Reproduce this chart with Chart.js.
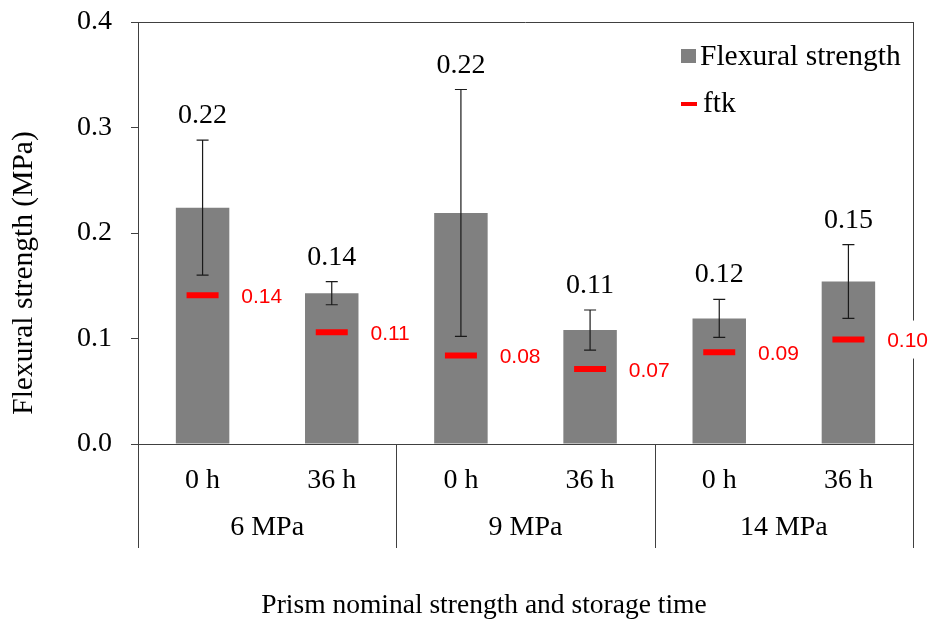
<!DOCTYPE html>
<html lang="en">
<head>
  <meta charset="UTF-8" />
  <title>Flexural strength</title>
  <script src="https://cdn.jsdelivr.net/npm/chart.js"></script>
  <style>
    html, body {
      margin: 0;
      padding: 0;
      background: #fff;
    }
    #wrap {
      width: 940px;
      height: 619px;
    }
  </style>
</head>
<body>
  <div id="wrap"><canvas id="strengthChart"></canvas></div>

  <script>
    const storageTimes = ['0 h', '36 h', '0 h', '36 h', '0 h', '36 h'];
    const prismGroups = ['6 MPa', '9 MPa', '14 MPa'];
    const flexuralMean = [0.224, 0.143, 0.219, 0.108, 0.119, 0.154];
    const flexuralSd = [0.064, 0.011, 0.117, 0.019, 0.018, 0.035];
    const ftkValues = [0.141, 0.106, 0.084, 0.071, 0.087, 0.099];
    const yTicks = [0, 0.1, 0.2, 0.3, 0.4];

    const serif = "'Liberation Serif', 'Times New Roman', serif";
    const sans = "'Liberation Sans', Arial, sans-serif";
    const lineColor = '#404040';
    const barColor = '#808080';
    const ftkColor = '#ff0000';

    // error bars, value labels, frame, group rules, axis titles and legend
    const overlay = {
      id: 'overlay',
      afterDatasetsDraw(chart) {
        const { ctx, scales: { y } } = chart;
        const bars = chart.getDatasetMeta(0).data;
        ctx.save();
        ctx.strokeStyle = '#1a1a1a';
        ctx.lineWidth = 1.2;
        bars.forEach((bar, i) => {
          const hi = y.getPixelForValue(flexuralMean[i] + flexuralSd[i]);
          const lo = y.getPixelForValue(flexuralMean[i] - flexuralSd[i]);
          ctx.beginPath();
          ctx.moveTo(bar.x, hi); ctx.lineTo(bar.x, lo);
          ctx.moveTo(bar.x - 6, hi); ctx.lineTo(bar.x + 6, hi);
          ctx.moveTo(bar.x - 6, lo); ctx.lineTo(bar.x + 6, lo);
          ctx.stroke();

          ctx.fillStyle = '#000';
          ctx.font = '28px ' + serif;
          ctx.textAlign = 'center';
          ctx.textBaseline = 'alphabetic';
          ctx.fillText(flexuralMean[i].toFixed(2), bar.x, hi - 17);
        });
        ctx.restore();
      },
      afterDraw(chart) {
        const { ctx, chartArea: area } = chart;
        const xs = chart.scales.x;
        const ruleBottom = area.bottom + 104;
        ctx.save();
        ctx.strokeStyle = lineColor;
        ctx.lineWidth = 1;
        ctx.beginPath();
        ctx.moveTo(area.left, area.top + 0.5); ctx.lineTo(area.right, area.top + 0.5);
        ctx.moveTo(area.right + 0.5, area.top); ctx.lineTo(area.right + 0.5, ruleBottom);
        ctx.moveTo(area.left + 0.5, area.bottom); ctx.lineTo(area.left + 0.5, ruleBottom);
        for (let i = 1; i < storageTimes.length - 1; i += 2) {
          const sx = Math.round((xs.getPixelForValue(i) + xs.getPixelForValue(i + 1)) / 2) + 0.5;
          ctx.moveTo(sx, area.bottom); ctx.lineTo(sx, ruleBottom);
        }
        ctx.stroke();

        // ftk value labels sit on a white patch
        const bars = chart.getDatasetMeta(0).data;
        const marks = chart.getDatasetMeta(1).data;
        ctx.font = '21px ' + sans;
        ctx.textAlign = 'left';
        ctx.textBaseline = 'middle';
        marks.forEach((pt, i) => {
          const text = ftkValues[i].toFixed(2);
          const tx = bars[i].x + bars[i].width / 2 + 12;
          const w = ctx.measureText(text).width;
          ctx.fillStyle = '#fff';
          ctx.fillRect(tx - 2, pt.y - 19, w + 4, 38);
          ctx.fillStyle = ftkColor;
          ctx.fillText(text, tx, pt.y + 2);
        });

        // axis titles
        ctx.fillStyle = '#000';
        ctx.textAlign = 'center';
        ctx.textBaseline = 'alphabetic';
        ctx.font = '27.5px ' + serif;
        ctx.fillText('Prism nominal strength and storage time', 484, 613);
        ctx.save();
        ctx.translate(32, 273);
        ctx.rotate(-Math.PI / 2);
        ctx.font = '29.5px ' + serif;
        ctx.fillText('Flexural strength (MPa)', 0, 0);
        ctx.restore();

        // legend
        const lx = area.right - 232;
        ctx.fillStyle = barColor;
        ctx.fillRect(lx, area.top + 27, 15, 14);
        ctx.fillStyle = ftkColor;
        ctx.fillRect(lx, area.top + 80, 16, 4);
        ctx.fillStyle = '#000';
        ctx.font = '29.5px ' + serif;
        ctx.textAlign = 'left';
        ctx.textBaseline = 'middle';
        ctx.fillText('Flexural strength', lx + 19, area.top + 35);
        ctx.fillText('ftk', lx + 22, area.top + 82);
        ctx.restore();
      }
    };

    const ctx = document.getElementById('strengthChart').getContext('2d');
    const strengthChart = new Chart(ctx, {
      type: 'bar',
      data: {
        labels: storageTimes,
        datasets: [{
          label: 'Flexural strength',
          data: flexuralMean,
          backgroundColor: barColor,
          barPercentage: 0.414,
          categoryPercentage: 1,
          order: 1
        }, {
          type: 'line',
          label: 'ftk',
          data: ftkValues,
          showLine: false,
          pointStyle: 'line',
          pointRadius: 16,
          pointHoverRadius: 16,
          pointBorderWidth: 6,
          pointBorderColor: ftkColor,
          borderColor: ftkColor,
          order: 0
        }]
      },
      options: {
        responsive: true,
        maintainAspectRatio: false,
        animation: false,
        devicePixelRatio: 1,
        layout: { padding: { top: 21, right: 27, bottom: 0, left: 0 } },
        plugins: {
          legend: { display: false },
          tooltip: { enabled: false }
        },
        scales: {
          x: {
            weight: 0,
            grid: { display: false, drawTicks: false },
            border: { display: true, color: lineColor },
            ticks: {
              color: '#000',
              font: { family: serif, size: 28 },
              padding: 20,
              autoSkip: false,
              maxRotation: 0
            },
            afterFit: s => { s.height = 52; }
          },
          x2: {
            type: 'category',
            position: 'bottom',
            weight: 1,
            labels: prismGroups,
            offset: true,
            grid: { display: false, drawTicks: false },
            border: { display: false },
            ticks: {
              color: '#000',
              font: { family: serif, size: 28 },
              padding: 15,
              autoSkip: false,
              maxRotation: 0
            },
            afterFit: s => { s.height = 123; }
          },
          y: {
            min: 0,
            max: 0.4,
            afterBuildTicks: s => { s.ticks = yTicks.map(v => ({ value: v })); },
            grid: {
              display: true,
              drawOnChartArea: false,
              drawTicks: true,
              tickLength: 7,
              color: lineColor
            },
            border: { display: true, color: lineColor },
            ticks: {
              color: '#000',
              font: { family: serif, size: 28 },
              padding: 19,
              callback: v => v.toFixed(1)
            },
            afterFit: s => {
              s.width = 138;
              s.paddingTop = 0;
              s.paddingBottom = 0;
            }
          }
        }
      },
      plugins: [overlay]
    });
  </script>
</body>
</html>
